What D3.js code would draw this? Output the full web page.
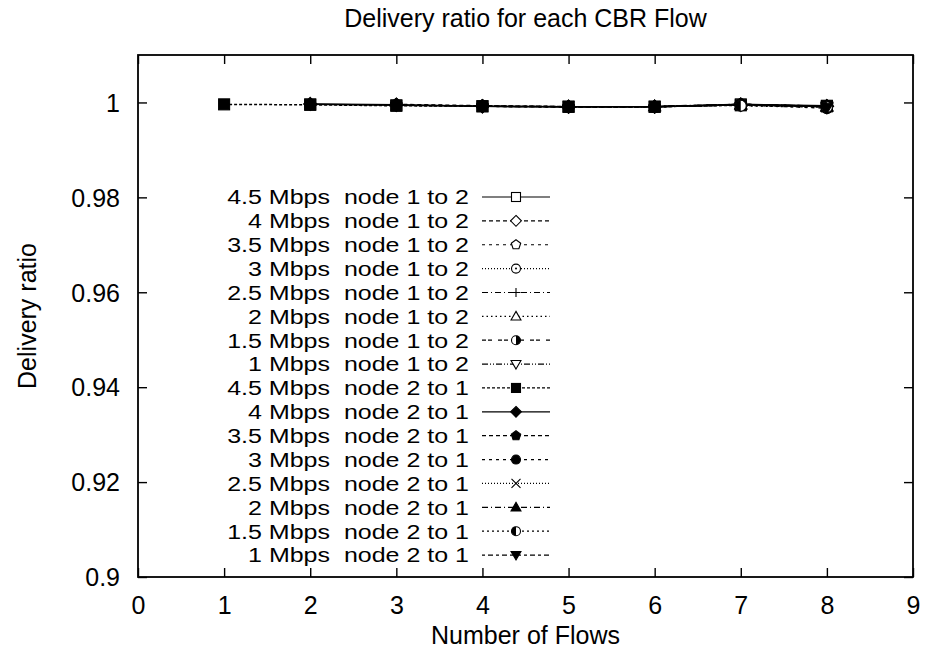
<!DOCTYPE html>
<html>
<head>
<meta charset="utf-8">
<script src="https://cdn.jsdelivr.net/npm/d3@7"></script>
<style>
  html, body { margin: 0; padding: 0; background: #fff; }
  text { font-family: "Liberation Sans", Arial, Helvetica, sans-serif; fill: #000; }
</style>
</head>
<body>
<svg id="chart" width="929" height="654"></svg>
<script>
// Number of concurrent CBR flows on the x axis
const flows = [1, 2, 3, 4, 5, 6, 7, 8];

// Delivery ratio per flow, node 1 -> node 2 (null where the flow is not active)
const r45_12 = [null, 0.9996, 0.9994, 0.9992, 0.9991, 0.9991, 0.9996, 0.9993];
const r40_12 = [null, null, 0.9995, 0.9992, 0.9991, 0.9991, 0.9995, 0.9992];
const r35_12 = [null, null, null, 0.9993, 0.9991, 0.9991, 0.9996, 0.9992];
const r30_12 = [null, null, null, null, 0.9991, 0.9991, 0.9996, 0.9991];
const r25_12 = [null, null, null, null, null, 0.9991, 0.9995, 0.9992];
const r20_12 = [null, null, null, null, null, null, 0.9995, 0.9991];
const r15_12 = [null, null, null, null, null, null, null, 0.9990];
const r10_12 = [null, null, null, null, null, null, null, 0.9991];

// Delivery ratio per flow, node 2 -> node 1
const r45_21 = [0.9996, 0.9995, 0.9993, 0.9992, 0.9991, 0.9991, 0.9994, 0.9992];
const r40_21 = [null, 0.9997, 0.9995, 0.9992, 0.9991, 0.9991, 0.9995, 0.9992];
const r35_21 = [null, null, 0.9996, 0.9993, 0.9991, 0.9991, 0.9996, 0.9991];
const r30_21 = [null, null, null, 0.9992, 0.9990, 0.9991, 0.9995, 0.9988];
const r25_21 = [null, null, null, null, 0.9991, 0.9991, 0.9995, 0.9991];
const r20_21 = [null, null, null, null, null, 0.9992, 0.9996, 0.9992];
const r15_21 = [null, null, null, null, null, null, 0.9993, 0.9990];
const r10_21 = [null, null, null, null, null, null, null, 0.9989];

const seriesNames = [
  "4.5 Mbps  node 1 to 2", "4 Mbps  node 1 to 2", "3.5 Mbps  node 1 to 2", "3 Mbps  node 1 to 2",
  "2.5 Mbps  node 1 to 2", "2 Mbps  node 1 to 2", "1.5 Mbps  node 1 to 2", "1 Mbps  node 1 to 2",
  "4.5 Mbps  node 2 to 1", "4 Mbps  node 2 to 1", "3.5 Mbps  node 2 to 1", "3 Mbps  node 2 to 1",
  "2.5 Mbps  node 2 to 1", "2 Mbps  node 2 to 1", "1.5 Mbps  node 2 to 1", "1 Mbps  node 2 to 1"
];
const seriesValues = [
  r45_12, r40_12, r35_12, r30_12, r25_12, r20_12, r15_12, r10_12,
  r45_21, r40_21, r35_21, r30_21, r25_21, r20_21, r15_21, r10_21
];

const xTicks = [0, 1, 2, 3, 4, 5, 6, 7, 8, 9];
const yTicks = [0.9, 0.92, 0.94, 0.96, 0.98, 1];

// Line dash pattern and point symbol for each series
const dashes = [
  null, "4,3", "3,4", "1,2", "6,3,1,3", "1.5,3", "4,2,4,6", "6,2,1,2,1,2",
  "3,2", null, "4,3", "3,4", "1,2", "6,3,1,3", "2,3,2,3", "3,3,5,3"
];
const symbols = [
  "sqOpen", "diaOpen", "pentOpen", "circDot", "plus", "triOpen", "halfR", "triDownOpen",
  "sqFill", "diaFill", "pentFill", "circFill", "cross", "triFill", "halfL", "triDownFill"
];

const svg = d3.select("#chart");
const margin = { left: 138, right: 16, top: 55, bottom: 77 };
const W = 929, H = 654;
const x = d3.scaleLinear().domain([0, 9]).range([margin.left, W - margin.right]);
const y = d3.scaleLinear().domain([0.9, 1.01]).range([H - margin.bottom, margin.top]);

const fontSize = 25;

// axes: ticks point inward and are mirrored on the opposite side
const tickLen = 9;
const gx = svg.append("g").attr("transform", `translate(0,${y(0.9)})`)
  .call(d3.axisBottom(x).tickValues(xTicks).tickFormat(d3.format("d")).tickSize(-tickLen).tickPadding(tickLen + 10));
const gxTop = svg.append("g").attr("transform", `translate(0,${y(1.01)})`)
  .call(d3.axisTop(x).tickValues(xTicks).tickFormat("").tickSize(-tickLen));
const gy = svg.append("g").attr("transform", `translate(${x(0)},0)`)
  .call(d3.axisLeft(y).tickValues(yTicks).tickFormat(d => d === 1 ? "1" : d3.format(".2f")(d).replace(/0$/, "")).tickSize(-tickLen).tickPadding(tickLen + 9));
const gyRight = svg.append("g").attr("transform", `translate(${x(9)},0)`)
  .call(d3.axisRight(y).tickValues(yTicks).tickFormat("").tickSize(-tickLen));

[gx, gxTop, gy, gyRight].forEach(g => {
  g.select(".domain").remove();
  g.selectAll(".tick line").attr("stroke", "#000").attr("stroke-width", 1.4);
  g.selectAll(".tick text").style("font-size", fontSize + "px").style("font-family", "Liberation Sans, Arial, sans-serif");
});
gy.selectAll(".tick text").attr("dy", "0.35em");

// frame
svg.append("rect")
  .attr("x", x(0)).attr("y", y(1.01))
  .attr("width", x(9) - x(0)).attr("height", y(0.9) - y(1.01))
  .attr("fill", "none").attr("stroke", "#000").attr("stroke-width", 1.8);

// titles
svg.append("text").attr("x", (x(0) + x(9)) / 2).attr("y", 27)
  .attr("text-anchor", "middle").style("font-size", fontSize + "px")
  .text("Delivery ratio for each CBR Flow");
svg.append("text").attr("x", (x(0) + x(9)) / 2).attr("y", 644)
  .attr("text-anchor", "middle").style("font-size", fontSize + "px")
  .text("Number of Flows");
svg.append("text")
  .attr("transform", `translate(36,${(y(0.9) + y(1.01)) / 2}) rotate(-90)`)
  .attr("text-anchor", "middle").style("font-size", fontSize + "px")
  .text("Delivery ratio");

// point symbols
function drawSymbol(g, type, cx, cy, s) {
  const sw = 1.1;
  const open = { fill: "#fff", stroke: "#000", "stroke-width": sw };
  const fill = { fill: "#000", stroke: "#000", "stroke-width": sw };
  const apply = (el, st) => { Object.entries(st).forEach(([k, v]) => el.attr(k, v)); return el; };
  const poly = (pts) => pts.map(p => (cx + p[0]) + "," + (cy + p[1])).join(" ");
  const pent = d3.range(5).map(i => { const a = -Math.PI / 2 + i * 2 * Math.PI / 5; return [s * 1.1 * Math.cos(a), s * 1.1 * Math.sin(a)]; });
  switch (type) {
    case "sqOpen": apply(g.append("rect").attr("x", cx - s).attr("y", cy - s).attr("width", 2 * s).attr("height", 2 * s), open); break;
    case "sqFill": apply(g.append("rect").attr("x", cx - s).attr("y", cy - s).attr("width", 2 * s).attr("height", 2 * s), fill); break;
    case "diaOpen": apply(g.append("polygon").attr("points", poly([[0, -s * 1.2], [s * 1.2, 0], [0, s * 1.2], [-s * 1.2, 0]])), open); break;
    case "diaFill": apply(g.append("polygon").attr("points", poly([[0, -s * 1.2], [s * 1.2, 0], [0, s * 1.2], [-s * 1.2, 0]])), fill); break;
    case "pentOpen": apply(g.append("polygon").attr("points", poly(pent)), open); break;
    case "pentFill": apply(g.append("polygon").attr("points", poly(pent)), fill); break;
    case "circDot":
      apply(g.append("circle").attr("cx", cx).attr("cy", cy).attr("r", s), open);
      g.append("circle").attr("cx", cx).attr("cy", cy).attr("r", 1).attr("fill", "#000"); break;
    case "circFill": apply(g.append("circle").attr("cx", cx).attr("cy", cy).attr("r", s), fill); break;
    case "plus":
      g.append("path").attr("d", `M${cx - s},${cy}H${cx + s}M${cx},${cy - s}V${cy + s}`).attr("stroke", "#000").attr("stroke-width", sw); break;
    case "cross":
      g.append("path").attr("d", `M${cx - s},${cy - s}L${cx + s},${cy + s}M${cx - s},${cy + s}L${cx + s},${cy - s}`).attr("stroke", "#000").attr("stroke-width", sw); break;
    case "triOpen": apply(g.append("polygon").attr("points", poly([[0, -s * 1.1], [s * 1.1, s * 0.8], [-s * 1.1, s * 0.8]])), open); break;
    case "triFill": apply(g.append("polygon").attr("points", poly([[0, -s * 1.1], [s * 1.1, s * 0.8], [-s * 1.1, s * 0.8]])), fill); break;
    case "triDownOpen": apply(g.append("polygon").attr("points", poly([[0, s * 1.1], [s * 1.1, -s * 0.8], [-s * 1.1, -s * 0.8]])), open); break;
    case "triDownFill": apply(g.append("polygon").attr("points", poly([[0, s * 1.1], [s * 1.1, -s * 0.8], [-s * 1.1, -s * 0.8]])), fill); break;
    case "halfR":
    case "halfL": {
      apply(g.append("circle").attr("cx", cx).attr("cy", cy).attr("r", s), open);
      const sweep = type === "halfR" ? 1 : 0;
      g.append("path").attr("d", `M${cx},${cy - s}A${s},${s} 0 0 ${sweep} ${cx},${cy + s}Z`).attr("fill", "#000");
      break;
    }
  }
}

// series lines and points
const line = d3.line()
  .defined(d => d.v != null)
  .x(d => x(d.f)).y(d => y(d.v));

const plot = svg.append("g");
seriesValues.forEach((vals, i) => {
  const pts = flows.map((f, k) => ({ f, v: vals[k] }));
  plot.append("path").datum(pts)
    .attr("d", line).attr("fill", "none").attr("stroke", "#000").attr("stroke-width", 1.5)
    .attr("stroke-dasharray", dashes[i]);
});
seriesValues.forEach((vals, i) => {
  const g = plot.append("g");
  flows.forEach((f, k) => { if (vals[k] != null) drawSymbol(g, symbols[i], x(f), y(vals[k]), 5.5); });
});

// legend: rows are tightly packed, so the labels use a smaller size stretched horizontally
const legX = 469, legY0 = 197, legDy = 23.87;
const legFont = 20.5, legStretch = fontSize / legFont;
const leg = svg.append("g");
seriesNames.forEach((name, i) => {
  const yy = legY0 + i * legDy;
  leg.append("text")
    .attr("transform", `translate(${legX},${yy}) scale(${legStretch},1)`)
    .attr("dy", "0.36em")
    .attr("text-anchor", "end").style("font-size", legFont + "px").style("white-space", "pre")
    .attr("xml:space", "preserve").text(name);
  leg.append("line").attr("x1", 482).attr("x2", 550).attr("y1", yy).attr("y2", yy)
    .attr("stroke", "#000").attr("stroke-width", 1.2).attr("stroke-dasharray", dashes[i]);
  drawSymbol(leg.append("g"), symbols[i], 516, yy, 4.5);
});
</script>
</body>
</html>
